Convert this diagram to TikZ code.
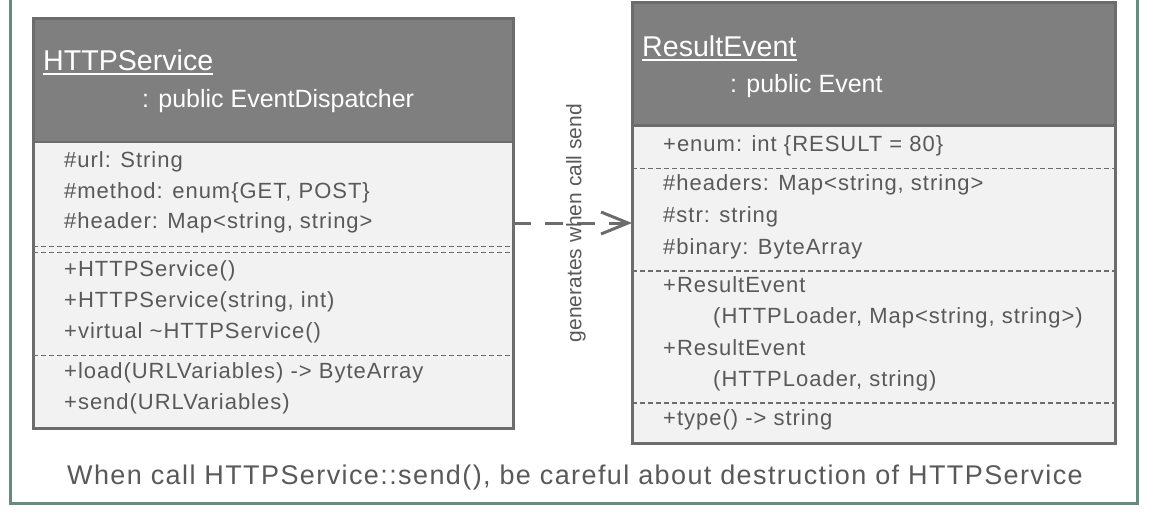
\documentclass[tikz,border=0pt]{standalone}
\usepackage{fontspec}
\setmainfont{Liberation Sans}
\newfontfamily\bodyfont[LetterSpace=4.5]{Liberation Sans}
\newfontfamily\notefont[LetterSpace=5.2]{Liberation Sans}
\usetikzlibrary{arrows.meta}
\definecolor{frameteal}{RGB}{100,140,128}
\definecolor{hdrfill}{RGB}{127,127,127}
\definecolor{boxedge}{RGB}{108,108,108}
\definecolor{bodyfill}{RGB}{242,242,242}
\definecolor{ink}{RGB}{89,89,89}
\begin{document}
\begin{tikzpicture}[x=1pt,y=-1pt,
  classbox/.style={rectangle, draw=boxedge, line width=3pt, fill=bodyfill,
    inner sep=0pt, outer sep=0pt},
  title/.style={anchor=base west, inner sep=0pt, text=white,
    font=\fontsize{28.6}{28.6}\selectfont},
  parent/.style={anchor=base west, inner sep=0pt, text=white,
    font=\fontsize{25}{25}\selectfont},
  row/.style={anchor=mid west, inner sep=0pt, text=ink,
    font=\bodyfont\fontsize{22}{22}\selectfont},
  sepline/.style={boxedge, line width=1.4pt, dash pattern=on 5pt off 3pt},
  hdrline/.style={boxedge, line width=2.5pt},
  conn/.style={boxedge, line width=3pt, dash pattern=on 18pt off 14pt,
    -{Straight Barb[length=27pt,width=22pt,line width=3pt]}},
  caption/.style={inner sep=0pt, text=ink,
    font=\notefont\fontsize{27}{27}\selectfont}]
\useasboundingbox (0,0) rectangle (1149,512);
\clip (0,0) rectangle (1149,512);
\fill[white] (0,0) rectangle (1149,512);

% outer frame (its top edge runs above the page)
\draw[frameteal, line width=3pt] (10.5,-20) rectangle (1137.5,503.5);

% ---------- HTTPService ----------
\node[classbox, minimum width=480pt, minimum height=410pt] (svc) at (273,223) {};
\fill[hdrfill] (svc.north west) rectangle ([yshift=-124pt]svc.north east);
\draw[hdrline] ([yshift=-124pt]svc.north west) -- ([yshift=-124pt]svc.north east);
\draw[boxedge, line width=3pt] (svc.north west) rectangle (svc.south east);
\node[title] (svcname) at (43,70) {HTTPService};
\draw[white, line width=1.6pt] ([yshift=-4pt]svcname.base west) -- ([yshift=-4pt]svcname.base east);
\node[parent] (svcbase) at (142,107) {: public EventDispatcher};

\node[row] (s1) at (64,165) {\#url: String};
\node[row] (s2) at (64,196) {\#method: enum\{GET, POST\}};
\node[row] (s3) at (64,226) {\#header: Map<string, string>};
\draw[sepline] (33,246.5) -- (513,246.5);
\draw[sepline] (33,252.5) -- (513,252.5);
\node[row] (s4) at (64,274) {+HTTPService()};
\node[row] (s5) at (64,305) {+HTTPService(string, int)};
\node[row] (s6) at (64,336) {+virtual \textasciitilde HTTPService()};
\draw[sepline] (33,355.5) -- (513,355.5);
\node[row] (s7) at (64,376) {+load(URLVariables) -> ByteArray};
\node[row] (s8) at (64,407) {+send(URLVariables)};

% ---------- ResultEvent ----------
\node[classbox, minimum width=483pt, minimum height=441pt] (evt) at (873.5,223) {};
\fill[hdrfill] (evt.north west) rectangle ([yshift=-123pt]evt.north east);
\draw[hdrline] ([yshift=-123pt]evt.north west) -- ([yshift=-123pt]evt.north east);
\draw[boxedge, line width=3pt] (evt.north west) rectangle (evt.south east);
\node[title] (evtname) at (642,56) {ResultEvent};
\draw[white, line width=1.6pt] ([yshift=-4pt]evtname.base west) -- ([yshift=-4pt]evtname.base east);
\node[parent] (evtbase) at (730,92) {: public Event};

\node[row] (e1) at (663,149) {+enum: int \{RESULT = 80\}};
\draw[sepline] (632,168.5) -- (1115,168.5);
\node[row] (e2) at (663,188) {\#headers: Map<string, string>};
\node[row] (e3) at (663,220) {\#str: string};
\node[row] (e4) at (663,252) {\#binary: ByteArray};
\draw[sepline] (632,271) -- (1115,271);
\node[row] (e5) at (663,290) {+ResultEvent};
\node[row] (e6) at (713,321) {(HTTPLoader, Map<string, string>)};
\node[row] (e7) at (663,353) {+ResultEvent};
\node[row] (e8) at (713,384) {(HTTPLoader, string)};
\draw[sepline] (632,403) -- (1115,403);
\node[row] (e9) at (663,423) {+type() -> string};

% ---------- dependency ----------
\draw[conn] (svc.east) -- (evt.west);
\node[inner sep=0pt, text=ink, rotate=90, font=\fontsize{21}{21}\selectfont]
  (deplabel) at (576,223) {generates when call send};

% ---------- note ----------
\node[caption] (note) at (575,478)
  {When call HTTPService::send(), be careful about destruction of HTTPService};
\end{tikzpicture}
\end{document}
